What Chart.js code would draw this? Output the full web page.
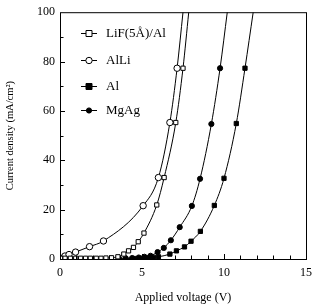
<!DOCTYPE html>
<html>
<head>
<meta charset="utf-8">
<script src="https://cdn.jsdelivr.net/npm/chart.js@4"></script>
<style>
  html, body { margin: 0; padding: 0; background: #fff; }
  #wrap { width: 319px; height: 305px; }
</style>
</head>
<body>
<div id="wrap"><canvas id="jvChart" width="319" height="305"></canvas></div>
<script>
// values (voltage in V, current density in mA/cm2)
// last point of each series is where the curve leaves the top of the frame (no marker)
const lifV = [0.04, 0.31, 0.63, 0.96, 1.26, 1.56, 1.85, 2.21, 2.5, 2.8, 3.14, 3.53, 3.89, 4.18, 4.48, 4.77, 5.12, 5.9, 6.35, 7.06, 7.5, 7.85];
const lifJ = [0.3, 0.3, 0.3, 0.3, 0.3, 0.3, 0.3, 0.3, 0.3, 0.4, 0.5, 0.9, 2.0, 3.3, 4.7, 7.0, 10.5, 21.9, 33, 55.3, 77.3, 100];

const alliV = [0.04, 0.3, 0.55, 0.95, 1.8, 2.65, 5.07, 6.0, 6.7, 7.14, 7.5];
const alliJ = [0.3, 1.2, 1.8, 2.8, 5.0, 7.3, 21.6, 33, 55.3, 77.3, 100];

const alV = [4.0, 4.5, 5.0, 5.4, 5.7, 6.0, 6.7, 7.1, 7.59, 7.99, 8.56, 9.41, 10.0, 10.75, 11.28, 11.78];
const alJ = [0.1, 0.2, 0.3, 0.5, 0.7, 0.9, 2.0, 3.3, 4.9, 7.2, 11.2, 21.7, 32.7, 54.9, 77.3, 100];

const mgagV = [3.6, 4.0, 4.4, 4.8, 5.15, 5.52, 5.95, 6.33, 6.76, 7.3, 8.04, 8.54, 9.23, 9.76, 10.2];
const mgagJ = [0.2, 0.3, 0.4, 0.6, 0.9, 1.3, 2.8, 4.5, 7.6, 12.9, 21.5, 32.5, 54.7, 77.3, 100];

const seriesNames = ["LiF(5Å)/Al", "AlLi", "Al", "MgAg"];

const xTicks = [0, 5, 10, 15];
const yTicks = [0, 20, 40, 60, 80, 100];

const SERIF = "'Liberation Serif', 'DejaVu Serif', serif";

function toPoints(xs, ys) {
  return xs.map((x, i) => ({ x: x, y: ys[i] }));
}

function markerSize(style, filled) {
  if (style === "rect") return 3;
  return filled ? 2.6 : 3.2;
}

function makeSeries(label, xs, ys, style, filled) {
  const last = xs.length - 1;
  const r = markerSize(style, filled);
  return {
    label: label,
    data: toPoints(xs, ys),
    showLine: true,
    cubicInterpolationMode: "monotone",
    borderColor: "#000",
    borderWidth: 1,
    pointStyle: style,
    pointRadius: (ctx) => (ctx.dataIndex === last ? 0 : r),
    pointBackgroundColor: filled ? "#000" : "#fff",
    pointBorderColor: "#000",
    pointBorderWidth: 1,
    markerR: r,
  };
}

// frame, inward ticks and the legend box in the upper left
const framePlugin = {
  id: "frame",
  afterDraw(chart) {
    const { ctx, chartArea: a, scales } = chart;
    ctx.save();
    ctx.strokeStyle = "#000";
    ctx.lineWidth = 1;
    ctx.strokeRect(a.left + 0.5, a.top + 0.5, a.right - a.left, a.bottom - a.top);

    ctx.beginPath();
    for (let v = 1; v < 15; v++) {
      const px = Math.round(scales.x.getPixelForValue(v)) + 0.5;
      const len = v % 5 === 0 ? 5 : 3.5;
      ctx.moveTo(px, a.bottom);
      ctx.lineTo(px, a.bottom - len);
    }
    for (let v = 10; v < 100; v += 10) {
      const py = Math.round(scales.y.getPixelForValue(v)) + 0.5;
      const len = v % 20 === 0 ? 5 : 3.5;
      ctx.moveTo(a.left, py);
      ctx.lineTo(a.left + len, py);
    }
    ctx.stroke();

    // legend
    const rows = [33, 60, 86, 110];
    ctx.font = "13px " + SERIF;
    ctx.textBaseline = "middle";
    chart.data.datasets.forEach((ds, i) => {
      const y = rows[i] + 0.5;
      ctx.beginPath();
      ctx.moveTo(81, y);
      ctx.lineTo(97, y);
      ctx.stroke();
      ctx.fillStyle = ds.pointBackgroundColor;
      ctx.beginPath();
      if (ds.pointStyle === "rect") {
        ctx.rect(86, y - 3, 6, 6);
      } else {
        ctx.arc(89, y, ds.markerR, 0, Math.PI * 2);
      }
      ctx.fill();
      ctx.stroke();
      ctx.fillStyle = "#000";
      ctx.fillText(ds.label, 106, rows[i] + 1);
    });
    ctx.restore();
  },
};

new Chart(document.getElementById("jvChart"), {
  type: "scatter",
  data: {
    datasets: [
      makeSeries(seriesNames[0], lifV, lifJ, "rect", false),
      makeSeries(seriesNames[1], alliV, alliJ, "circle", false),
      makeSeries(seriesNames[2], alV, alJ, "rect", true),
      makeSeries(seriesNames[3], mgagV, mgagJ, "circle", true),
    ],
  },
  options: {
    responsive: false,
    animation: false,
    layout: { padding: { top: 8, right: 5, left: 0, bottom: 0 } },
    plugins: {
      legend: { display: false },
      tooltip: { enabled: false },
    },
    scales: {
      x: {
        type: "linear",
        min: 0,
        max: 15,
        afterBuildTicks: (scale) => { scale.ticks = xTicks.map((v) => ({ value: v })); },
        afterFit: (scale) => { scale.height = 46; },
        ticks: { color: "#000", padding: 7, maxRotation: 0, font: { family: SERIF, size: 12 } },
        grid: { display: false, drawTicks: false },
        border: { display: false },
        title: {
          display: true,
          text: "Applied voltage (V)",
          color: "#000",
          padding: { top: 6, bottom: 0 },
          font: { family: SERIF, size: 12 },
        },
      },
      y: {
        type: "linear",
        min: 0,
        max: 100,
        afterBuildTicks: (scale) => { scale.ticks = yTicks.map((v) => ({ value: v })); },
        afterFit: (scale) => { scale.width = 60; },
        ticks: { color: "#000", padding: 5, font: { family: SERIF, size: 12 } },
        grid: { display: false, drawTicks: false },
        border: { display: false },
        title: {
          display: true,
          text: "Current density (mA/cm²)",
          color: "#000",
          padding: { top: 4, bottom: 4 },
          font: { family: SERIF, size: 10.5 },
        },
      },
    },
  },
  plugins: [framePlugin],
});
</script>
</body>
</html>
